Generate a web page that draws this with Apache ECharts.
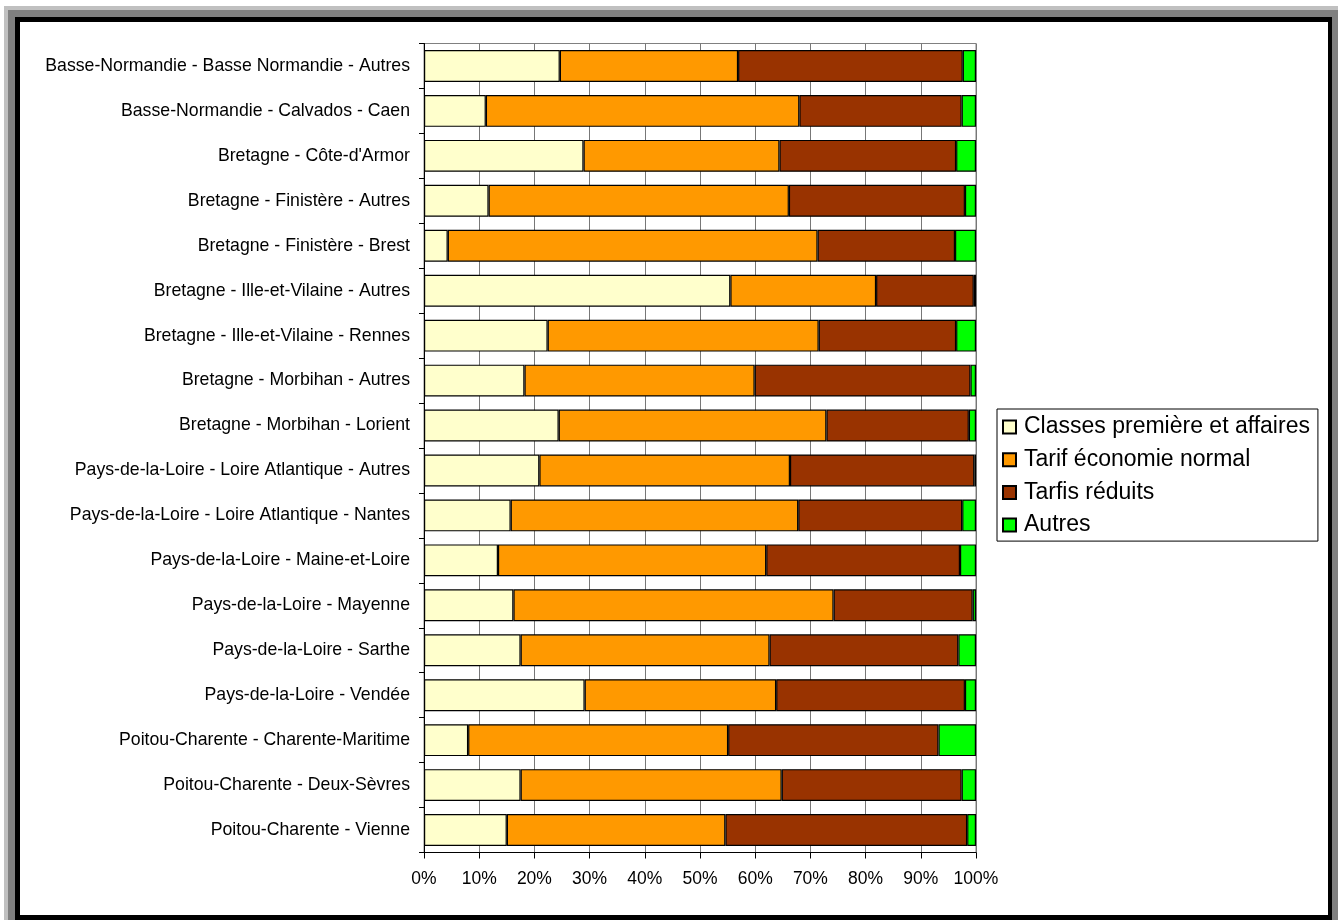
<!DOCTYPE html>
<html>
<head>
<meta charset="utf-8">
<script src="https://cdn.jsdelivr.net/npm/echarts@6/dist/echarts.min.js"></script>
<style>
  html, body { margin: 0; padding: 0; background: #ffffff; }
  #wrap { position: relative; width: 1338px; height: 920px; overflow: hidden; background: #ffffff; }
  .f { position: absolute; }
  #chart { position: absolute; left: 0; top: 0; width: 1338px; height: 920px; }
</style>
</head>
<body>
<div id="wrap">
  <div class="f" style="left:4px;top:6px;width:1400px;height:1000px;background:#c0c0c0;"></div>
  <div class="f" style="left:8px;top:10px;width:1400px;height:1000px;background:#808080;"></div>
  <div class="f" style="left:15px;top:17px;width:1317px;height:1000px;background:#000000;"></div>
  <div class="f" style="left:20px;top:22px;width:1308px;height:893px;background:#ffffff;"></div>
  <div id="chart"></div>
</div>
<script>
const categories = [
  "Basse-Normandie - Basse Normandie - Autres",
  "Basse-Normandie - Calvados - Caen",
  "Bretagne - Côte-d'Armor",
  "Bretagne - Finistère - Autres",
  "Bretagne - Finistère - Brest",
  "Bretagne - Ille-et-Vilaine - Autres",
  "Bretagne - Ille-et-Vilaine - Rennes",
  "Bretagne - Morbihan - Autres",
  "Bretagne - Morbihan - Lorient",
  "Pays-de-la-Loire - Loire Atlantique - Autres",
  "Pays-de-la-Loire - Loire Atlantique - Nantes",
  "Pays-de-la-Loire - Maine-et-Loire",
  "Pays-de-la-Loire - Mayenne",
  "Pays-de-la-Loire - Sarthe",
  "Pays-de-la-Loire - Vendée",
  "Poitou-Charente - Charente-Maritime",
  "Poitou-Charente - Deux-Sèvres",
  "Poitou-Charente - Vienne"
];
const seriesNames = ["Classes première et affaires", "Tarif économie normal", "Tarfis réduits", "Autres"];
const classesPremiere = [24.6, 11.2, 28.9, 11.7, 4.3, 55.5, 22.4, 18.2, 24.4, 20.9, 15.7, 13.4, 16.2, 17.5, 29.1, 8.0, 17.5, 15.0];
const tarifEconomie   = [32.3, 56.8, 35.5, 54.4, 67.0, 26.4, 49.1, 41.7, 48.5, 45.4, 52.1, 48.6, 58.0, 45.1, 34.7, 47.1, 47.3, 39.6];
const tarifsReduits   = [40.7, 29.4, 32.0, 31.9, 24.9, 17.7, 24.9, 39.1, 25.8, 33.4, 29.7, 35.1, 25.2, 34.2, 34.2, 38.1, 32.6, 43.8];
const autres          = [2.4, 2.6, 3.6, 2.0, 3.8, 0.4, 3.6, 1.0, 1.3, 0.3, 2.5, 2.9, 0.6, 3.2, 2.0, 6.8, 2.6, 1.6];
const xTicks = [0, 10, 20, 30, 40, 50, 60, 70, 80, 90, 100];

const colors = ["#FFFFCC", "#FF9900", "#993300", "#00FF00"];
const valueSets = [classesPremiere, tarifEconomie, tarifsReduits, autres];
const FONT = '"Liberation Sans", Arial, sans-serif';

const chart = echarts.init(document.getElementById('chart'), null, { renderer: 'canvas' });
chart.setOption({
  backgroundColor: 'transparent',
  animation: false,
  textStyle: { fontFamily: FONT },
  grid: {
    left: 424, right: 362, top: 43.5, bottom: 67.5,
    show: true, borderColor: '#808080', borderWidth: 1, backgroundColor: 'transparent'
  },
  legend: {
    orient: 'vertical',
    left: 997, top: 409,
    padding: [6, 8, 4, 5],
    itemGap: 8.7,
    itemWidth: 13, itemHeight: 13,
    icon: 'rect',
    borderColor: '#000', borderWidth: 1,
    backgroundColor: '#fff',
    textStyle: { fontSize: 23, color: '#000', fontFamily: FONT, lineHeight: 24, padding: [0, 0, 0, 3] },
    data: seriesNames
  },
  xAxis: {
    type: 'value',
    min: xTicks[0], max: xTicks[xTicks.length - 1], interval: xTicks[1] - xTicks[0],
    axisLine: { show: true, lineStyle: { color: '#000', width: 1 } },
    axisTick: { show: true, length: 6, lineStyle: { color: '#000' } },
    axisLabel: { formatter: '{value}%', fontSize: 17.5, color: '#000', margin: 18, fontFamily: FONT },
    splitLine: { show: true, lineStyle: { color: '#777', width: 1 } }
  },
  yAxis: {
    type: 'category',
    inverse: true,
    data: categories,
    axisLine: { show: true, lineStyle: { color: '#000', width: 1 } },
    axisTick: { show: true, length: 5, lineStyle: { color: '#000' } },
    axisLabel: { fontSize: 17.7, color: '#000', margin: 14, fontFamily: FONT },
    splitLine: { show: false }
  },
  series: seriesNames.map((name, i) => ({
    name: name,
    type: 'bar',
    stack: 'total',
    barCategoryGap: '29%',
    data: valueSets[i],
    itemStyle: { color: colors[i], borderColor: '#000', borderWidth: 1.2 },
    emphasis: { disabled: true }
  }))
});
</script>
</body>
</html>
